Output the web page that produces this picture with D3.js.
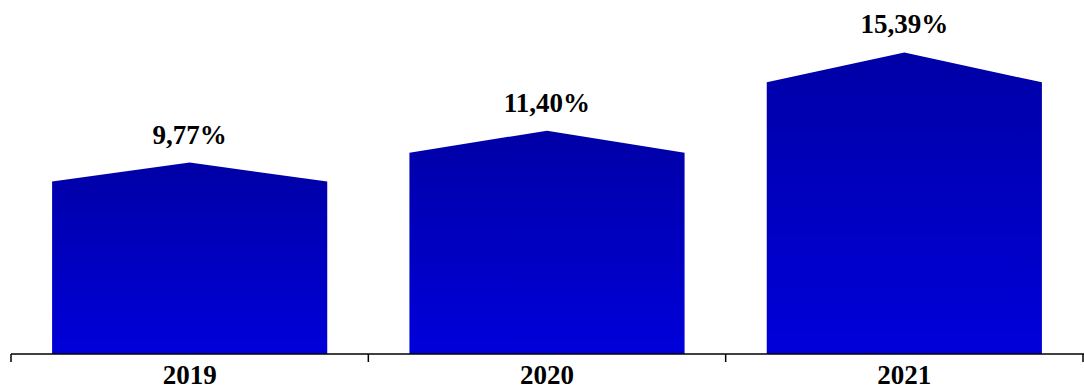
<!DOCTYPE html>
<html>
<head>
<meta charset="utf-8">
<script src="https://cdn.jsdelivr.net/npm/d3@7"></script>
<style>
  html, body { margin: 0; padding: 0; background: #fff; }
  svg { display: block; }
  text { font-family: "Liberation Serif", "Times New Roman", serif; font-weight: bold; fill: #000; }
</style>
</head>
<body>
<svg id="chart" width="1084" height="390"></svg>
<script>
// Annual rates by year
const years = ["2019", "2020", "2021"];
const rates = [9.77, 11.40, 15.39];
const rateLabels = ["9,77%", "11,40%", "15,39%"];

const width = 1084, height = 390;
const baseY = 354;

const svg = d3.select("#chart");

const x = d3.scaleBand().domain(years).range([11, 1083]).padding(0);
const y = d3.scaleLinear().domain([0, 20]).range([baseY, 1]);

// Vertical gradient for each bar: deeper blue at the roof, brighter at the base
const defs = svg.append("defs");
const grad = defs.append("linearGradient")
  .attr("id", "barFill")
  .attr("x1", 0).attr("y1", 0).attr("x2", 0).attr("y2", 1);
grad.append("stop").attr("offset", "0%").attr("stop-color", "#0000a6");
grad.append("stop").attr("offset", "100%").attr("stop-color", "#0000da");

const barFrac = 0.77;
const roofRatio = 1.11;

const data = years.map((yr, i) => ({ year: yr, value: rates[i], label: rateLabels[i] }));

// Pentagon-shaped bars (flat bar with a pitched roof)
svg.append("g").selectAll("path")
  .data(data)
  .join("path")
  .attr("fill", "url(#barFill)")
  .attr("d", d => {
    const bw = x.bandwidth() * barFrac;
    const x0 = x(d.year) + (x.bandwidth() - bw) / 2;
    const x1 = x0 + bw;
    const xm = (x0 + x1) / 2;
    const ys = y(d.value);
    const yp = y(d.value * roofRatio);
    return `M${x0},${baseY}L${x0},${ys}L${xm},${yp}L${x1},${ys}L${x1},${baseY}Z`;
  });

// Value labels above the roof peaks
svg.append("g").selectAll("text")
  .data(data)
  .join("text")
  .attr("x", d => x(d.year) + x.bandwidth() / 2)
  .attr("y", d => y(d.value * roofRatio) - 19)
  .attr("text-anchor", "middle")
  .attr("font-size", 27)
  .text(d => d.label);

// Category axis with ticks at band boundaries
const axis = svg.append("g");
axis.append("line")
  .attr("x1", x.range()[0]).attr("x2", x.range()[1] + 1)
  .attr("y1", baseY).attr("y2", baseY)
  .attr("stroke", "#000").attr("stroke-width", 1.5);

const edges = years.map(yr => x(yr)).concat([x.range()[1]]);
axis.selectAll("line.tick")
  .data(edges)
  .join("line")
  .attr("class", "tick")
  .attr("x1", d => d).attr("x2", d => d)
  .attr("y1", baseY).attr("y2", baseY + 8)
  .attr("stroke", "#000").attr("stroke-width", 1.5);

axis.selectAll("text")
  .data(years)
  .join("text")
  .attr("x", d => x(d) + x.bandwidth() / 2)
  .attr("y", 384)
  .attr("text-anchor", "middle")
  .attr("font-size", 27)
  .text(d => d);
</script>
</body>
</html>
